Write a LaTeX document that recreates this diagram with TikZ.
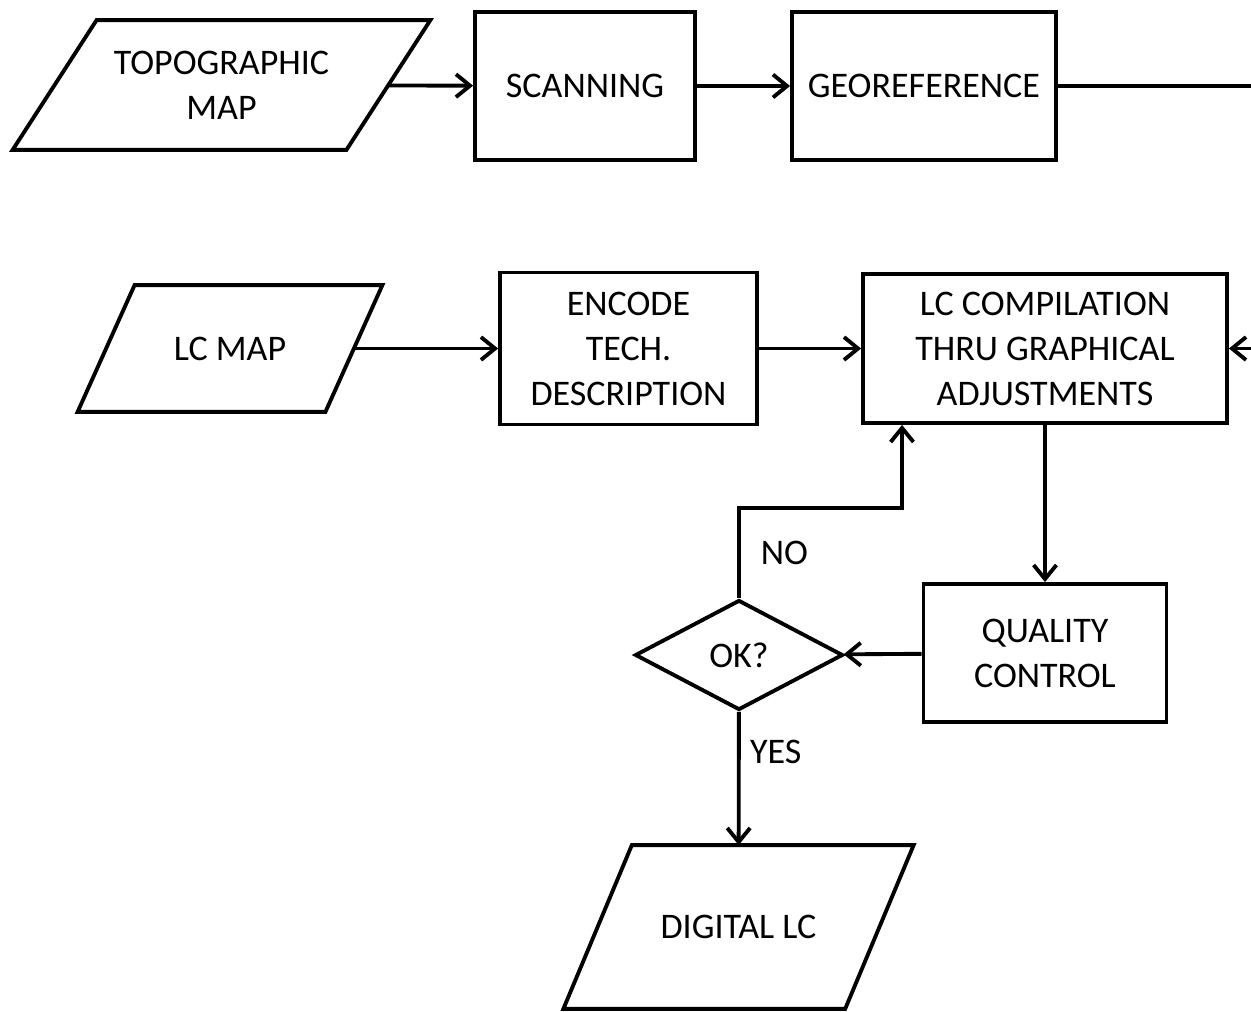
\documentclass[tikz,border=0pt]{standalone}
\usepackage{fontspec}
\setmainfont{Carlito}
\usetikzlibrary{arrows.meta,shapes.geometric}

\begin{document}
\begin{tikzpicture}[x=0.02cm,y=-0.02cm,>={Straight Barb[length=8pt,width=13pt]},line width=2.2pt,
font=\fontsize{20.5}{25.6}\selectfont,
box/.style={draw,rectangle,align=center,inner sep=0pt},
datanode/.style={rectangle,align=center,inner sep=0pt},
decision/.style={draw,diamond,aspect=1.9,inner sep=0pt}]
\useasboundingbox (0,0) rectangle (1251,1011);
\coordinate (rt) at (1251,0);
\node[datanode,minimum width=6.6cm,minimum height=2.52cm](topo) at (221.5,85){TOPOGRAPHIC\\MAP};
\node[box,minimum width=4.4cm,minimum height=2.96cm](scan) at (585,86){SCANNING};
\node[box,minimum width=5.28cm,minimum height=2.96cm](geo) at (924,86){GEOREFERENCE};
\node[datanode,minimum width=4.88cm,minimum height=2.46cm](lcmap) at (230,348.5){LC MAP};
\node[box,minimum width=5.14cm,minimum height=3.04cm](encode) at (628.5,348.5){ENCODE\\TECH.\\DESCRIPTION};
\node[box,minimum width=7.28cm,minimum height=2.98cm](comp) at (1045,348.5){LC COMPILATION\\THRU GRAPHICAL\\ADJUSTMENTS};
\node[box,minimum width=4.86cm,minimum height=2.76cm](qc) at (1045,653){QUALITY\\CONTROL};
\node[decision,minimum width=4.16cm,minimum height=2.2cm](ok) at (739,655){OK?};
\node[datanode,minimum width=5.56cm,minimum height=3.2cm](digital) at (738.5,927){DIGITAL LC};
\foreach \n/\s in {topo/0.84cm,lcmap/0.57cm,digital/0.685cm}
  \draw([xshift=\s]\n.north west)--([xshift=\s]\n.north east)--([xshift=-\s]\n.south east)--([xshift=-\s]\n.south west)--cycle;
\draw[->](topo)--(scan);
\draw[->](scan)--(geo);
\draw(geo)--(geo-|rt);
\draw[->](lcmap)--(encode);
\draw[->](encode)--(comp);
\draw[->](comp-|rt)--(comp);
\draw[->](comp)--(qc);
\draw[->](qc)--(ok);
\draw[->](ok.north)--node[right,xshift=8pt]{NO}++(0,-90)-|([xshift=-2.86cm]comp.south);
\draw[->](ok)--node[pos=0.3,right,xshift=2pt]{YES}(digital);
\end{tikzpicture}
\end{document}
